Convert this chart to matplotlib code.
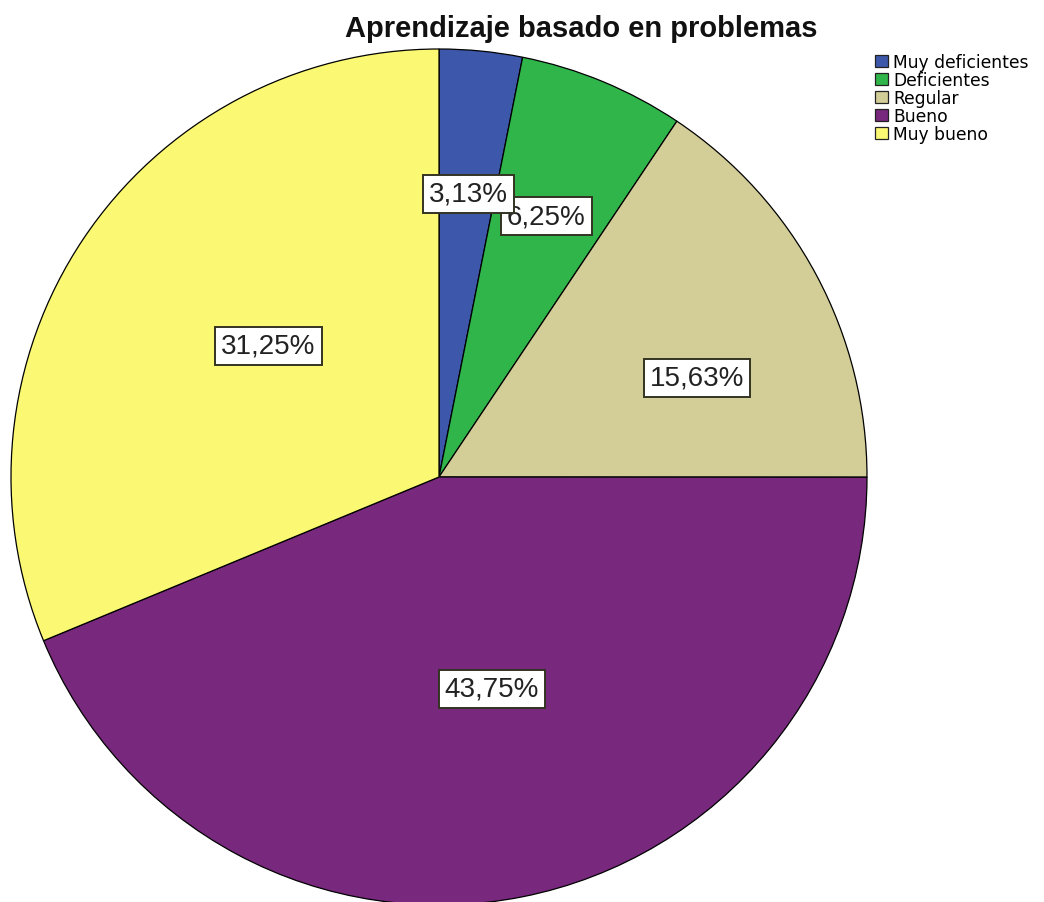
import numpy as np
import matplotlib
matplotlib.use("Agg")
import matplotlib.pyplot as plt
from matplotlib.patches import Patch

# Data
categories = ["Muy deficientes", "Deficientes", "Regular", "Bueno", "Muy bueno"]
percentages = [3.13, 6.25, 15.63, 43.75, 31.25]
colors = ["#3D58AB", "#30B54A", "#D3CD98", "#78287D", "#FBF873"]
title = "Aprendizaje basado en problemas"

# Label placement: radial fraction and clockwise angular nudge (degrees)
label_radius = [0.665, 0.659, 0.646, 0.51, 0.503]
label_nudge = [0.3, -0.2, 7.1, -2.8, 3.75]
label_zorder = [6, 5, 5, 5, 5]

W, H = 1044, 903
cx, cy, R = 439, 478, 428

fig = plt.figure(figsize=(W / 100, H / 100), dpi=100)
ax = fig.add_axes([0, 0, 1, 1])

wedges, _ = ax.pie(percentages, colors=colors, startangle=90, counterclock=False,
                   radius=1.0, center=(0, 0),
                   wedgeprops=dict(edgecolor="black", linewidth=0.9))

ax.set_aspect("auto")
ax.set_xlim(-cx / R, (W - cx) / R)
ax.set_ylim((cy - H) / R, cy / R)
ax.axis("off")

for w, p, rf, nudge, z in zip(wedges, percentages, label_radius, label_nudge, label_zorder):
    mid = np.deg2rad((w.theta1 + w.theta2) / 2 - nudge)
    x, y = rf * np.cos(mid), rf * np.sin(mid)
    ax.text(x, y, f"{p:.2f}%".replace(".", ","), ha="center", va="center",
            fontsize=20, family="Liberation Sans", color="#222222", zorder=z,
            bbox=dict(boxstyle="square,pad=0.22", facecolor="white",
                      edgecolor="#333322", linewidth=1.4))

fig.text(581 / W, 1 - 29 / H, title, ha="center", va="center",
         fontsize=21, fontweight="bold", family="Liberation Sans", color="#111111")

handles = [Patch(facecolor=c, edgecolor="#222222", linewidth=0.9) for c in colors]
fig.legend(handles, categories, loc="upper left", bbox_to_anchor=(875 / W, 1 - 54 / H),
           frameon=False, prop=dict(family="DejaVu Sans", size=12.3),
           labelspacing=0.0, handlelength=0.75, handleheight=0.75,
           handletextpad=0.3, borderpad=0.0, borderaxespad=0)

fig.savefig("out.png", dpi=100, facecolor="white")
